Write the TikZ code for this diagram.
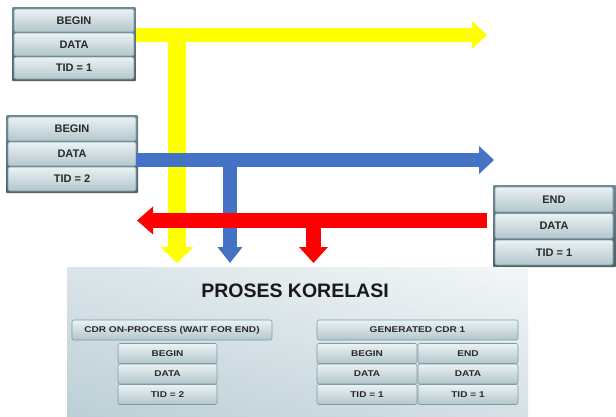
\documentclass[tikz,border=0pt]{standalone}
\usepackage{fontspec}
\setmainfont{Liberation Sans}
\newfontfamily\widefont[FakeStretch=1.2]{Liberation Sans}
\usetikzlibrary{arrows.meta}
\definecolor{yel}{HTML}{FFFF00}
\definecolor{blu}{HTML}{4472C4}
\definecolor{rd}{HTML}{FF0000}
\definecolor{rowtop}{HTML}{EAF2F4}
\definecolor{rowbot}{HTML}{B3C6CC}
\definecolor{rowline}{HTML}{7E9BA4}
\definecolor{frametop}{HTML}{6E8790}
\definecolor{framebot}{HTML}{4C6068}
\definecolor{txt}{HTML}{2A2A2A}
\definecolor{pantop}{HTML}{F3F7F8}
\definecolor{panbot}{HTML}{BDCFD7}
\tikzset{
  rowbox/.style={draw=rowline, line width=0.6pt, rounded corners=2pt,
    top color=rowtop, bottom color=rowbot, text=txt, inner sep=0pt,
    font=\bfseries\fontsize{11}{11}\selectfont},
  smallbox/.style={rowbox, font=\widefont\bfseries\fontsize{8.4}{9}\selectfont},
  frame/.style={top color=frametop, bottom color=framebot, rounded corners=1pt},
  band/.style={line cap=butt}
}
\begin{document}
\begin{tikzpicture}[x=1pt,y=-1pt]
\useasboundingbox (0,0) rectangle (616,416);

% ---- box 1 (TID = 1, begin)
\shade[frame] (12,7) rectangle (136,81);
\node[rowbox, minimum width=120pt, minimum height=23pt] (b1begin) at (74,20.5) {BEGIN};
\node[rowbox, minimum width=120pt, minimum height=23pt] (b1data) at (74,44.5) {DATA};
\node[rowbox, minimum width=120pt, minimum height=22pt] (b1tid) at (74,68) {TID = 1};

% ---- box 2 (TID = 2, begin)
\shade[frame] (6,115) rectangle (138,193);
\node[rowbox, minimum width=128pt, minimum height=24pt] (b2begin) at (72,129) {BEGIN};
\node[rowbox, minimum width=128pt, minimum height=24pt] (b2data) at (72,154) {DATA};
\node[rowbox, minimum width=128pt, minimum height=24pt] (b2tid) at (72,179) {TID = 2};

% ---- box 3 (TID = 1, end)
\shade[frame] (493,185) rectangle (616,267);
\node[rowbox, minimum width=118pt, minimum height=25pt] (b3end) at (554,199.5) {END};
\node[rowbox, minimum width=118pt, minimum height=25pt] (b3data) at (554,226) {DATA};
\node[rowbox, minimum width=118pt, minimum height=25pt] (b3tid) at (554,252.5) {TID = 1};

% ---- arrow coordinates
\coordinate (yA) at (136,35);
\coordinate (yB) at (487,35);
\coordinate (yJ) at (177,35);
\coordinate (yD) at (177,263);
\coordinate (bA) at (136,160);
\coordinate (bB) at (494,160);
\coordinate (bJ) at (230,160);
\coordinate (bD) at (230,263);
\coordinate (rA) at (487,220.5);
\coordinate (rB) at (137,220.5);
\coordinate (rJ) at (313.5,220.5);
\coordinate (rD) at (313.5,263);

% ---- yellow
\draw[band, yel, line width=14pt, -{Triangle[width=27pt,length=15pt]}] (yA) -- (yB);
\draw[band, yel, line width=18pt, -{Triangle[width=32pt,length=16pt]}] (yJ) -- (yD);
% ---- blue
\draw[band, blu, line width=14pt, -{Triangle[width=27pt,length=15pt]}] (bA) -- (bB);
\draw[band, blu, line width=14pt, -{Triangle[width=24pt,length=16pt]}] (bJ) -- (bD);
% ---- red
\draw[band, rd, line width=15pt, -{Triangle[width=27pt,length=16pt]}] (rA) -- (rB);
\draw[band, rd, line width=15pt, -{Triangle[width=28pt,length=16pt]}] (rJ) -- (rD);

% ---- correlation panel
\shade[top color=pantop, bottom color=panbot] (67,267) rectangle (528,416);
\shade[left color=panbot, right color=pantop, opacity=0.45] (67,267) rectangle (528,416);
\node[font=\bfseries\fontsize{19.5}{20}\selectfont, text=black!90] (title) at (295,291) {PROSES KORELASI};

\node[smallbox, minimum width=200pt, minimum height=20pt] (onproc) at (172,330) {CDR ON-PROCESS (WAIT FOR END)};
\node[smallbox, minimum width=99pt, minimum height=20pt] (lbegin) at (167.5,353.5) {BEGIN};
\node[smallbox, minimum width=99pt, minimum height=20pt] (ldata) at (167.5,374) {DATA};
\node[smallbox, minimum width=99pt, minimum height=20pt] (ltid) at (167.5,394.5) {TID = 2};

\node[smallbox, minimum width=201pt, minimum height=20pt] (gen) at (417.5,330) {GENERATED CDR 1};
\node[smallbox, minimum width=100pt, minimum height=20pt] (gbegin) at (367,353.5) {BEGIN};
\node[smallbox, minimum width=100pt, minimum height=20pt] (gdata) at (367,374) {DATA};
\node[smallbox, minimum width=100pt, minimum height=20pt] (gtid) at (367,394.5) {TID = 1};
\node[smallbox, minimum width=100pt, minimum height=20pt] (gend) at (468,353.5) {END};
\node[smallbox, minimum width=100pt, minimum height=20pt] (gdata2) at (468,374) {DATA};
\node[smallbox, minimum width=100pt, minimum height=20pt] (gtid2) at (468,394.5) {TID = 1};
\end{tikzpicture}
\end{document}
